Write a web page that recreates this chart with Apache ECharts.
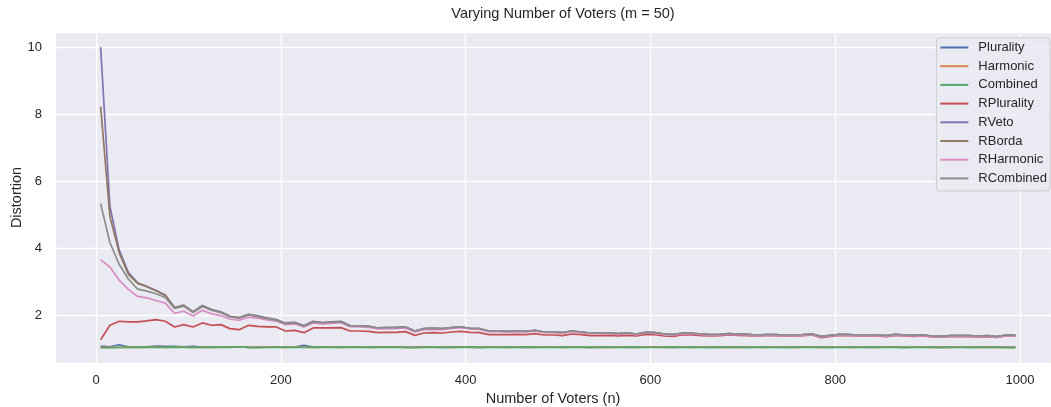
<!DOCTYPE html>
<html>
<head>
<meta charset="utf-8">
<script src="https://cdn.jsdelivr.net/npm/echarts@6/dist/echarts.min.js"></script>
<style>
  html, body { margin: 0; padding: 0; background: #fff; }
  #chart { width: 1051px; height: 407px; }
</style>
</head>
<body>
<div id="chart"></div>
<script>
// number of voters (x axis)
const voters = [
  5, 15, 25, 35, 45, 55, 65, 75, 85, 95,
  105, 115, 125, 135, 145, 155, 165, 175, 185, 195,
  205, 215, 225, 235, 245, 255, 265, 275, 285, 295,
  305, 315, 325, 335, 345, 355, 365, 375, 385, 395,
  405, 415, 425, 435, 445, 455, 465, 475, 485, 495,
  505, 515, 525, 535, 545, 555, 565, 575, 585, 595,
  605, 615, 625, 635, 645, 655, 665, 675, 685, 695,
  705, 715, 725, 735, 745, 755, 765, 775, 785, 795,
  805, 815, 825, 835, 845, 855, 865, 875, 885, 895,
  905, 915, 925, 935, 945, 955, 965, 975, 985, 995
]

const plurality = [
  1.08, 1.06, 1.12, 1.06, 1.05, 1.06, 1.08, 1.07, 1.07, 1.06,
  1.07, 1.05, 1.06, 1.05, 1.06, 1.06, 1.04, 1.05, 1.05, 1.06,
  1.05, 1.05, 1.10, 1.05, 1.06, 1.05, 1.06, 1.05, 1.05, 1.05,
  1.06, 1.05, 1.06, 1.04, 1.05, 1.06, 1.05, 1.04, 1.05, 1.06,
  1.05, 1.04, 1.05, 1.05, 1.06, 1.05, 1.04, 1.05, 1.05, 1.05,
  1.06, 1.05, 1.05, 1.04, 1.05, 1.05, 1.05, 1.04, 1.05, 1.05,
  1.05, 1.05, 1.04, 1.05, 1.06, 1.05, 1.04, 1.05, 1.05, 1.05,
  1.04, 1.05, 1.05, 1.05, 1.04, 1.05, 1.06, 1.05, 1.05, 1.04,
  1.05, 1.05, 1.05, 1.04, 1.05, 1.06, 1.05, 1.04, 1.05, 1.05,
  1.05, 1.04, 1.05, 1.05, 1.04, 1.05, 1.05, 1.05, 1.05, 1.05
]

const harmonic = [
  1.04, 1.04, 1.04, 1.05, 1.04, 1.05, 1.05, 1.04, 1.05, 1.05,
  1.04, 1.05, 1.04, 1.05, 1.05, 1.06, 1.04, 1.04, 1.05, 1.05,
  1.04, 1.05, 1.05, 1.04, 1.05, 1.05, 1.04, 1.05, 1.05, 1.04,
  1.05, 1.05, 1.05, 1.04, 1.04, 1.05, 1.05, 1.05, 1.04, 1.05,
  1.05, 1.04, 1.05, 1.05, 1.04, 1.05, 1.05, 1.04, 1.05, 1.05,
  1.04, 1.05, 1.05, 1.04, 1.05, 1.04, 1.05, 1.05, 1.04, 1.05,
  1.05, 1.04, 1.05, 1.05, 1.04, 1.05, 1.05, 1.04, 1.05, 1.04,
  1.05, 1.05, 1.04, 1.05, 1.05, 1.04, 1.05, 1.05, 1.04, 1.05,
  1.05, 1.04, 1.05, 1.05, 1.04, 1.05, 1.05, 1.04, 1.05, 1.05,
  1.04, 1.05, 1.04, 1.05, 1.05, 1.04, 1.05, 1.04, 1.04, 1.04
]

const combined = [
  1.03, 1.03, 1.04, 1.04, 1.04, 1.05, 1.04, 1.04, 1.05, 1.04,
  1.04, 1.04, 1.04, 1.05, 1.04, 1.06, 1.04, 1.03, 1.04, 1.04,
  1.04, 1.04, 1.04, 1.04, 1.05, 1.04, 1.04, 1.05, 1.04, 1.04,
  1.04, 1.05, 1.04, 1.04, 1.03, 1.04, 1.05, 1.04, 1.04, 1.04,
  1.05, 1.04, 1.04, 1.04, 1.04, 1.04, 1.05, 1.04, 1.04, 1.04,
  1.04, 1.04, 1.05, 1.04, 1.04, 1.04, 1.04, 1.05, 1.04, 1.04,
  1.04, 1.04, 1.05, 1.04, 1.04, 1.04, 1.04, 1.04, 1.04, 1.04,
  1.04, 1.05, 1.04, 1.04, 1.04, 1.04, 1.04, 1.04, 1.04, 1.04,
  1.04, 1.04, 1.04, 1.05, 1.04, 1.04, 1.04, 1.04, 1.04, 1.04,
  1.04, 1.04, 1.04, 1.04, 1.04, 1.04, 1.04, 1.04, 1.03, 1.03
]

const rPlurality = [
  1.27, 1.70, 1.82, 1.80, 1.80, 1.83, 1.87, 1.82, 1.65, 1.72,
  1.65, 1.77, 1.70, 1.72, 1.60, 1.57, 1.70, 1.67, 1.65, 1.65,
  1.53, 1.55, 1.48, 1.62, 1.62, 1.62, 1.63, 1.53, 1.53, 1.52,
  1.48, 1.49, 1.49, 1.51, 1.40, 1.47, 1.48, 1.47, 1.50, 1.52,
  1.49, 1.48, 1.42, 1.42, 1.42, 1.43, 1.42, 1.45, 1.41, 1.41,
  1.39, 1.44, 1.42, 1.39, 1.39, 1.40, 1.38, 1.40, 1.38, 1.43,
  1.42, 1.38, 1.37, 1.42, 1.41, 1.39, 1.38, 1.39, 1.41, 1.40,
  1.39, 1.38, 1.39, 1.39, 1.38, 1.38, 1.39, 1.41, 1.33, 1.37,
  1.40, 1.39, 1.38, 1.38, 1.38, 1.36, 1.40, 1.38, 1.37, 1.38,
  1.35, 1.35, 1.36, 1.36, 1.36, 1.35, 1.36, 1.34, 1.38, 1.38
]

const rVeto = [
  10.0, 5.25, 3.95, 3.28, 2.97, 2.86, 2.74, 2.60, 2.23, 2.30,
  2.10, 2.29, 2.17, 2.10, 1.97, 1.93, 2.03, 1.98, 1.92, 1.87,
  1.77, 1.79, 1.69, 1.82, 1.78, 1.80, 1.82, 1.69, 1.68, 1.67,
  1.62, 1.63, 1.63, 1.65, 1.53, 1.60, 1.61, 1.60, 1.63, 1.65,
  1.61, 1.60, 1.53, 1.53, 1.52, 1.53, 1.52, 1.55, 1.50, 1.50,
  1.48, 1.53, 1.50, 1.47, 1.47, 1.47, 1.45, 1.47, 1.44, 1.49,
  1.48, 1.44, 1.42, 1.47, 1.46, 1.44, 1.42, 1.43, 1.45, 1.44,
  1.43, 1.41, 1.42, 1.42, 1.41, 1.41, 1.42, 1.44, 1.37, 1.40,
  1.43, 1.42, 1.41, 1.41, 1.41, 1.39, 1.43, 1.41, 1.40, 1.41,
  1.38, 1.37, 1.39, 1.39, 1.39, 1.38, 1.39, 1.36, 1.41, 1.40
]

const rBorda = [
  8.22, 4.95, 3.87, 3.22, 2.95, 2.85, 2.73, 2.59, 2.22, 2.29,
  2.10, 2.28, 2.16, 2.09, 1.96, 1.92, 2.02, 1.97, 1.91, 1.86,
  1.76, 1.78, 1.68, 1.81, 1.77, 1.79, 1.81, 1.68, 1.68, 1.67,
  1.62, 1.63, 1.63, 1.65, 1.53, 1.60, 1.61, 1.60, 1.63, 1.65,
  1.61, 1.60, 1.53, 1.53, 1.52, 1.53, 1.52, 1.55, 1.50, 1.50,
  1.48, 1.53, 1.50, 1.47, 1.47, 1.47, 1.45, 1.47, 1.44, 1.49,
  1.48, 1.44, 1.42, 1.47, 1.46, 1.44, 1.42, 1.43, 1.45, 1.44,
  1.43, 1.41, 1.42, 1.42, 1.41, 1.41, 1.42, 1.44, 1.37, 1.40,
  1.43, 1.42, 1.41, 1.41, 1.41, 1.39, 1.43, 1.41, 1.40, 1.41,
  1.38, 1.37, 1.39, 1.39, 1.39, 1.38, 1.39, 1.36, 1.41, 1.40
]

const rHarmonic = [
  3.65, 3.44, 3.05, 2.77, 2.56, 2.52, 2.44, 2.36, 2.06, 2.12,
  1.98, 2.15, 2.04, 1.99, 1.88, 1.85, 1.94, 1.91, 1.86, 1.82,
  1.72, 1.74, 1.65, 1.77, 1.74, 1.76, 1.78, 1.66, 1.65, 1.64,
  1.59, 1.60, 1.60, 1.62, 1.50, 1.57, 1.58, 1.57, 1.61, 1.63,
  1.59, 1.58, 1.51, 1.51, 1.50, 1.51, 1.50, 1.53, 1.48, 1.48,
  1.46, 1.51, 1.48, 1.45, 1.45, 1.45, 1.43, 1.45, 1.42, 1.47,
  1.46, 1.42, 1.40, 1.45, 1.44, 1.42, 1.40, 1.41, 1.43, 1.42,
  1.41, 1.39, 1.40, 1.40, 1.39, 1.39, 1.40, 1.42, 1.35, 1.38,
  1.41, 1.40, 1.39, 1.39, 1.39, 1.37, 1.41, 1.39, 1.38, 1.39,
  1.36, 1.35, 1.37, 1.37, 1.37, 1.36, 1.37, 1.34, 1.39, 1.38
]

const rCombined = [
  5.33, 4.17, 3.52, 3.08, 2.78, 2.72, 2.64, 2.53, 2.20, 2.27,
  2.08, 2.26, 2.15, 2.08, 1.95, 1.91, 2.01, 1.96, 1.90, 1.85,
  1.75, 1.77, 1.67, 1.80, 1.77, 1.79, 1.80, 1.68, 1.68, 1.67,
  1.62, 1.63, 1.63, 1.65, 1.53, 1.60, 1.61, 1.60, 1.63, 1.65,
  1.61, 1.60, 1.53, 1.53, 1.52, 1.53, 1.52, 1.55, 1.50, 1.50,
  1.48, 1.53, 1.50, 1.47, 1.47, 1.47, 1.45, 1.47, 1.44, 1.49,
  1.48, 1.44, 1.42, 1.47, 1.46, 1.44, 1.42, 1.43, 1.45, 1.44,
  1.43, 1.41, 1.42, 1.42, 1.41, 1.41, 1.42, 1.44, 1.37, 1.40,
  1.43, 1.42, 1.41, 1.41, 1.41, 1.39, 1.43, 1.41, 1.40, 1.41,
  1.38, 1.37, 1.39, 1.39, 1.39, 1.38, 1.39, 1.36, 1.41, 1.40
]

const seriesNames = ['Plurality', 'Harmonic', 'Combined', 'RPlurality', 'RVeto', 'RBorda', 'RHarmonic', 'RCombined']
const seriesValues = [plurality, harmonic, combined, rPlurality, rVeto, rBorda, rHarmonic, rCombined]
const colors = ['#4C72B0', '#DD8452', '#55A868', '#C44E52', '#8172B3', '#937860', '#DA8BC3', '#8C8C8C']

const textColor = '#262626'
const font = 'Liberation Sans, Arial, Helvetica, sans-serif'

const chart = echarts.init(document.getElementById('chart'))

chart.setOption({
  animation: false,
  backgroundColor: '#ffffff',
  color: colors,
  title: {
    text: 'Varying Number of Voters (m = 50)',
    left: 558,
    top: 1,
    textAlign: 'center',
    textStyle: { color: textColor, fontSize: 14.5, fontWeight: 'normal', fontFamily: font },
  },
  legend: {
    orient: 'vertical',
    right: 1,
    top: 38,
    padding: [3, 3, 6, 3],
    itemWidth: 28,
    itemHeight: 14,
    itemGap: 5.7,
    backgroundColor: 'rgba(234,234,242,0.8)',
    borderColor: '#cccccc',
    borderWidth: 1,
    borderRadius: 3,
    data: seriesNames,
    itemStyle: { opacity: 0 },
    textStyle: { color: textColor, fontSize: 13, fontFamily: font, padding: [0, 0, 0, 5] },
  },
  grid: {
    left: 55,
    right: 0,
    top: 32,
    bottom: 44,
    outerBoundsMode: 'none',
    show: true,
    backgroundColor: '#EAEAF2',
    borderWidth: 0,
  },
  xAxis: {
    type: 'value',
    min: -44.4,
    max: 1033.5,
    name: 'Number of Voters (n)',
    nameLocation: 'middle',
    nameGap: 26,
    nameTextStyle: { color: textColor, fontSize: 14.5, fontFamily: font },
    axisLine: { show: false },
    axisTick: { show: false },
    axisLabel: {
      color: textColor,
      fontSize: 13,
      fontFamily: font,
      margin: 11,
      showMinLabel: false,
      showMaxLabel: false,
      formatter: v => (v % 200 === 0 ? String(v) : ''),
    },
    splitLine: { show: true, lineStyle: { color: '#ffffff', width: 1.3 } },
  },
  yAxis: {
    type: 'value',
    min: 0.575,
    max: 10.45,
    name: 'Distortion',
    nameLocation: 'middle',
    nameMoveOverlap: false,
    nameGap: 31,
    nameTextStyle: { color: textColor, fontSize: 14.5, fontFamily: font },
    axisLine: { show: false },
    axisTick: { show: false },
    axisLabel: {
      color: textColor,
      fontSize: 13,
      fontFamily: font,
      margin: 13,
      showMinLabel: false,
      showMaxLabel: false,
      formatter: v => (v % 2 === 0 ? String(v) : ''),
    },
    splitLine: { show: true, lineStyle: { color: '#ffffff', width: 1.3 } },
  },
  series: seriesNames.map((name, i) => ({
    name: name,
    type: 'line',
    symbol: 'none',
    lineStyle: { width: 1.7 },
    data: voters.map((x, j) => [x, seriesValues[i][j]]),
  })),
})
</script>
</body>
</html>
